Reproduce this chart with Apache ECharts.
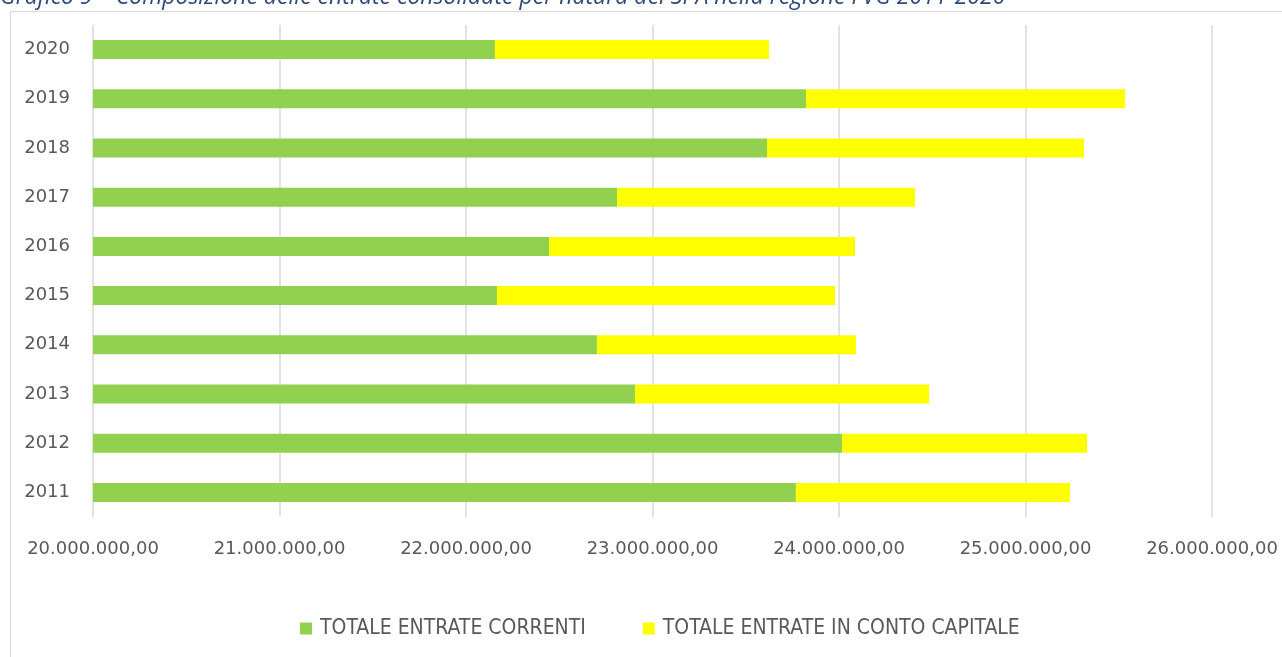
<!DOCTYPE html>
<html>
<head>
<meta charset="utf-8">
<script src="https://cdn.jsdelivr.net/npm/echarts@6/dist/echarts.min.js"></script>
<style>
  html, body { margin: 0; padding: 0; background: #fff; }
  #chart { width: 1282px; height: 657px; }
</style>
</head>
<body>
<div id="chart"></div>
<script>
// dati
const years = ['2011', '2012', '2013', '2014', '2015', '2016', '2017', '2018', '2019', '2020']
const entrateCorrenti = [23769000, 24016000, 22906000, 22702000, 22166000, 22445000, 22810000, 23614000, 23823000, 22155000]
const entrateCapitale = [1470000, 1314000, 1577000, 1389000, 1813000, 1641000, 1598000, 1700000, 1711000, 1470000]
const xTicks = { min: 20000000, max: 26000000, step: 1000000 }

const titleText = 'Grafico 9 – Composizione delle entrate consolidate per natura del SPA nella regione FVG 2011-2020'

function formatIt(v) {
  const parts = v.toFixed(2).split('.')
  return parts[0].replace(/\B(?=(\d{3})+(?!\d))/g, '.') + ',' + parts[1]
}

const chart = echarts.init(document.getElementById('chart'))

chart.setOption({
  animation: false,
  textStyle: { fontFamily: 'DejaVu Sans' },
  graphic: [
    {
      type: 'rect',
      shape: { x: 10.5, y: 11.5, width: 1400, height: 700 },
      style: { fill: 'none', stroke: '#d9d9d9', lineWidth: 1 },
      silent: true
    },
    {
      type: 'text',
      left: 0,
      top: -14,
      style: {
        text: titleText,
        font: 'italic 23px "Open Sans"',
        fill: '#2e4a7d'
      },
      silent: true
    }
  ],
  legend: {
    bottom: 13,
    left: 295,
    itemWidth: 12,
    itemHeight: 12,
    itemGap: 57,
    icon: 'rect',
    textStyle: {
      fontFamily: 'Liberation Sans Narrow, DejaVu Sans Condensed, sans-serif',
      fontSize: 21,
      color: '#595959',
      padding: [0, 0, 0, 3]
    },
    data: ['TOTALE ENTRATE CORRENTI', 'TOTALE ENTRATE IN CONTO CAPITALE']
  },
  grid: {
    left: 93,
    right: 70,
    top: 25,
    height: 492,
    containLabel: false
  },
  xAxis: {
    type: 'value',
    min: xTicks.min,
    max: xTicks.max,
    interval: xTicks.step,
    axisLine: { show: false },
    axisTick: { show: false },
    splitLine: { lineStyle: { color: '#d9d9d9', width: 1.5 } },
    axisLabel: {
      formatter: formatIt,
      fontSize: 18,
      color: '#595959',
      margin: 23
    }
  },
  yAxis: {
    type: 'category',
    data: years,
    axisLine: { show: false },
    axisTick: { show: false },
    axisLabel: {
      fontSize: 18,
      color: '#595959',
      margin: 23
    }
  },
  series: [
    {
      name: 'TOTALE ENTRATE CORRENTI',
      type: 'bar',
      stack: 'tot',
      color: '#92d050',
      barWidth: 19,
      data: entrateCorrenti
    },
    {
      name: 'TOTALE ENTRATE IN CONTO CAPITALE',
      type: 'bar',
      stack: 'tot',
      color: '#ffff00',
      barWidth: 19,
      data: entrateCapitale
    }
  ]
})
</script>
</body>
</html>
